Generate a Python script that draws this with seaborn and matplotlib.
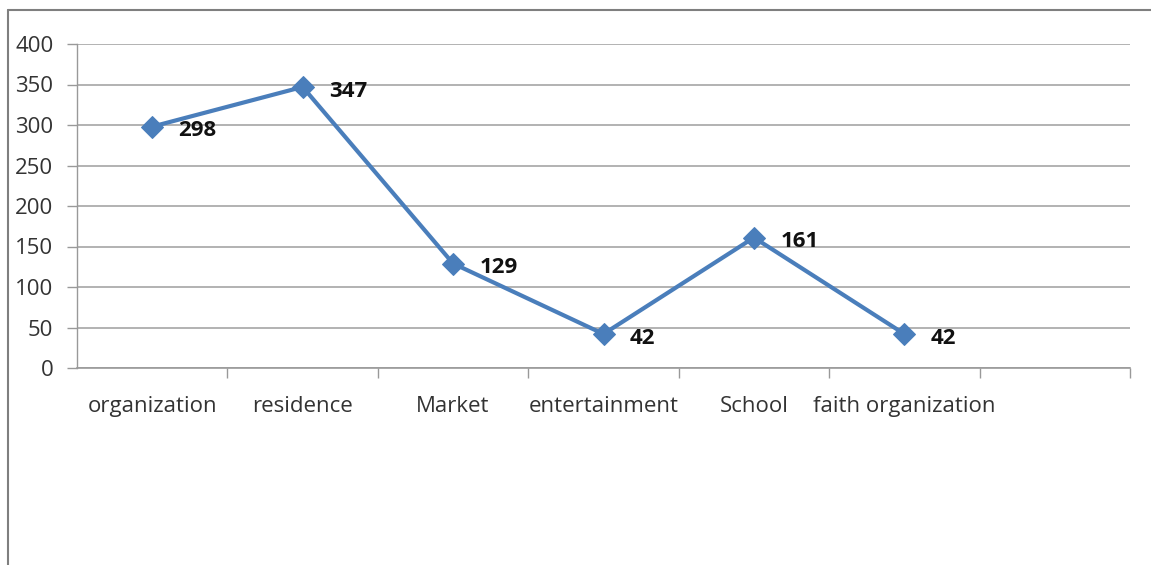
import matplotlib
matplotlib.use("Agg")
import matplotlib.pyplot as plt
import seaborn as sns
import pandas as pd
from matplotlib.lines import Line2D

categories = ["organization", "residence", "Market", "entertainment", "School", "faith organization", ""]
values = [298, 347, 129, 42, 161, 42]
yticks = [0, 50, 100, 150, 200, 250, 300, 350, 400]

sns.set_theme(style="white")
plt.rcParams['font.family'] = ['Open Sans', 'DejaVu Sans']

W, H = 1151, 565
fig = plt.figure(figsize=(W / 100, H / 100), dpi=100)
ax = fig.add_axes([77 / W, 1 - 368 / H, (1130 - 77) / W, (368 - 44) / H])

df = pd.DataFrame({"x": list(range(len(values))), "y": values})
line_color = "#4A7EBB"
sns.lineplot(data=df, x="x", y="y", ax=ax, color=line_color, linewidth=3,
             marker="D", markersize=11, markeredgecolor=line_color, markerfacecolor=line_color)

for i, v in enumerate(values):
    ax.annotate(str(v), (i, v), xytext=(19, -3), textcoords="offset points",
                ha="left", va="center", fontsize=16, fontweight="bold", color="#111111")

ax.set_xlim(-0.5, len(categories) - 0.5)
ax.set_ylim(0, 400)
ax.set_yticks(yticks)
ax.set_yticklabels([str(t) for t in yticks], fontsize=16, color="#333333")
ax.set_xticks(range(len(categories)))
ax.set_xticklabels(categories, fontsize=16, color="#333333")
ax.tick_params(axis="x", length=0, pad=20)
ax.tick_params(axis="y", length=7, color="#999999", width=1, pad=10, left=True)
# minor ticks at category boundaries
ax.set_xticks([i + 0.5 for i in range(len(categories))], minor=True)
ax.tick_params(axis="x", which="minor", length=7, color="#999999", width=1, bottom=True, direction="out")

ax.grid(axis="y", color="#a6a6a6", linewidth=1.2)
ax.set_axisbelow(True)
ax.set_xlabel("")
ax.set_ylabel("")
for s in ["top", "right"]:
    ax.spines[s].set_visible(False)
ax.spines["left"].set_color("#999999")
ax.spines["bottom"].set_color("#999999")
ax.spines["left"].set_linewidth(1)
ax.spines["bottom"].set_linewidth(1.2)

# outer chart frame (left and top edges)
fig.add_artist(Line2D([8 / W, 8 / W], [0, 1 - 10 / H], transform=fig.transFigure, color="#7f7f7f", linewidth=1.5))
fig.add_artist(Line2D([8 / W, 1], [1 - 10 / H, 1 - 10 / H], transform=fig.transFigure, color="#7f7f7f", linewidth=1.5))

fig.savefig("out.png", dpi=100)
